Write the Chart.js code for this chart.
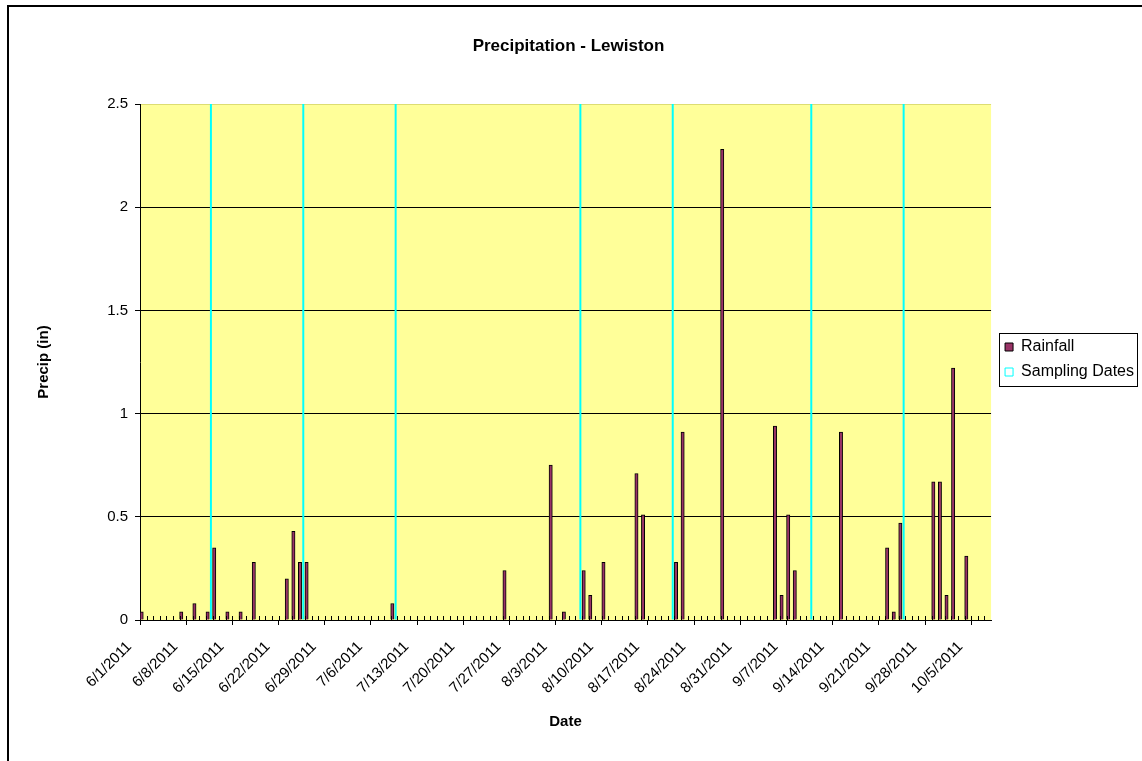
<!DOCTYPE html>
<html lang="en">
  <head>
    <meta charset="UTF-8" />
    <title>Precipitation - Lewiston</title>
    <script src="https://cdn.jsdelivr.net/npm/chart.js"></script>
    <style>
      body { margin: 0; background: #fff; }
    </style>
  </head>
  <body>
    <canvas id="precipChart" width="1142" height="761"></canvas>

    <script>
      // categories: one per day, 6/1/2011 - 10/7/2011
      const dates = [
        "6/1/2011", "6/2/2011", "6/3/2011", "6/4/2011", "6/5/2011", "6/6/2011", "6/7/2011", "6/8/2011", "6/9/2011", "6/10/2011",
        "6/11/2011", "6/12/2011", "6/13/2011", "6/14/2011", "6/15/2011", "6/16/2011", "6/17/2011", "6/18/2011", "6/19/2011", "6/20/2011",
        "6/21/2011", "6/22/2011", "6/23/2011", "6/24/2011", "6/25/2011", "6/26/2011", "6/27/2011", "6/28/2011", "6/29/2011", "6/30/2011",
        "7/1/2011", "7/2/2011", "7/3/2011", "7/4/2011", "7/5/2011", "7/6/2011", "7/7/2011", "7/8/2011", "7/9/2011", "7/10/2011",
        "7/11/2011", "7/12/2011", "7/13/2011", "7/14/2011", "7/15/2011", "7/16/2011", "7/17/2011", "7/18/2011", "7/19/2011", "7/20/2011",
        "7/21/2011", "7/22/2011", "7/23/2011", "7/24/2011", "7/25/2011", "7/26/2011", "7/27/2011", "7/28/2011", "7/29/2011", "7/30/2011",
        "7/31/2011", "8/1/2011", "8/2/2011", "8/3/2011", "8/4/2011", "8/5/2011", "8/6/2011", "8/7/2011", "8/8/2011", "8/9/2011",
        "8/10/2011", "8/11/2011", "8/12/2011", "8/13/2011", "8/14/2011", "8/15/2011", "8/16/2011", "8/17/2011", "8/18/2011", "8/19/2011",
        "8/20/2011", "8/21/2011", "8/22/2011", "8/23/2011", "8/24/2011", "8/25/2011", "8/26/2011", "8/27/2011", "8/28/2011", "8/29/2011",
        "8/30/2011", "8/31/2011", "9/1/2011", "9/2/2011", "9/3/2011", "9/4/2011", "9/5/2011", "9/6/2011", "9/7/2011", "9/8/2011",
        "9/9/2011", "9/10/2011", "9/11/2011", "9/12/2011", "9/13/2011", "9/14/2011", "9/15/2011", "9/16/2011", "9/17/2011", "9/18/2011",
        "9/19/2011", "9/20/2011", "9/21/2011", "9/22/2011", "9/23/2011", "9/24/2011", "9/25/2011", "9/26/2011", "9/27/2011", "9/28/2011",
        "9/29/2011", "9/30/2011", "10/1/2011", "10/2/2011", "10/3/2011", "10/4/2011", "10/5/2011", "10/6/2011", "10/7/2011"
      ];

      // daily rainfall (in), same order as dates
      const rainfall = [
        // June
        0.04, 0, 0, 0, 0, 0, 0.04, 0, 0.08, 0, 0.04, 0.35, 0, 0.04, 0, 0.04, 0, 0.28, 0, 0, 0, 0, 0.2, 0.43, 0.28, 0.28, 0, 0, 0, 0,
        // July
        0, 0, 0, 0, 0, 0, 0, 0, 0.08, 0, 0, 0, 0, 0, 0, 0, 0, 0, 0, 0, 0, 0, 0, 0, 0, 0.24, 0, 0, 0, 0, 0,
        // August
        0, 0.75, 0, 0.04, 0, 0, 0.24, 0.12, 0, 0.28, 0, 0, 0, 0, 0.71, 0.51, 0, 0, 0, 0, 0.28, 0.91, 0, 0, 0, 0, 0, 2.28, 0, 0, 0,
        // September
        0, 0, 0, 0, 0.94, 0.12, 0.51, 0.24, 0, 0, 0, 0, 0, 0, 0.91, 0, 0, 0, 0, 0, 0, 0.35, 0.04, 0.47, 0, 0, 0, 0, 0.67, 0.67,
        // October
        0.12, 1.22, 0, 0.31, 0, 0, 0
      ];

      const samplingDates = ["6/11/2011", "6/25/2011", "7/9/2011", "8/6/2011", "8/20/2011", "9/10/2011", "9/24/2011"];
      const samplingMarker = 2.5; // full-height marker bar

      const yTicks = [0, 0.5, 1, 1.5, 2, 2.5];

      // yellow plot area + outer frame
      const backgroundPlugin = {
        id: "plotBackground",
        beforeDraw(chart) {
          const { ctx, chartArea } = chart;
          ctx.save();
          ctx.fillStyle = "#FFFF99";
          ctx.fillRect(chartArea.left, chartArea.top, chartArea.right - chartArea.left, chartArea.bottom - chartArea.top);
          ctx.strokeStyle = "#000";
          ctx.lineWidth = 2;
          ctx.strokeRect(8, 6, chart.width + 10, chart.height + 10);
          ctx.restore();
        },
      };

      // small inside ticks at each day
      const minorTicksPlugin = {
        id: "minorTicks",
        afterDatasetsDraw(chart) {
          const { ctx, chartArea } = chart;
          const xs = chart.scales.x;
          const slot = xs.getPixelForValue(1) - xs.getPixelForValue(0);
          ctx.save();
          ctx.strokeStyle = "#000";
          ctx.lineWidth = 1;
          ctx.beginPath();
          for (let i = 1; i < dates.length; i++) {
            const x = Math.round(xs.getPixelForValue(i) - slot / 2) + 0.5;
            ctx.moveTo(x, chartArea.bottom);
            ctx.lineTo(x, chartArea.bottom - 4);
          }
          ctx.stroke();
          ctx.restore();
        },
      };

      // nudge legend/title and draw a box round the legend items
      const legendBoxPlugin = {
        id: "legendBox",
        afterLayout(chart) {
          const lg = chart.legend;
          lg.left += 5;
          lg.top -= 8;
          lg.bottom -= 8;
          chart.titleBlock.left -= 16;
          chart.titleBlock.right -= 16;
        },
        afterDraw(chart) {
          const lg = chart.legend;
          const pad = lg.options.labels.padding;
          const colH = lg.columnSizes[0].height;
          const y0 = (lg.top + pad + lg.bottom - colH) / 2;
          const ctx = chart.ctx;
          ctx.save();
          ctx.strokeStyle = "#000";
          ctx.lineWidth = 1;
          const x1 = Math.round(chart.chartArea.right + 8) + 0.5;
          const top = Math.round(y0 - 6) + 0.5;
          const bottom = Math.round(y0 + 47) + 0.5;
          ctx.strokeRect(x1, top, 1137.5 - x1, bottom - top);
          ctx.restore();
        },
      };

      const ctx = document.getElementById("precipChart").getContext("2d");
      new Chart(ctx, {
        type: "bar",
        data: {
          labels: dates,
          datasets: [
            {
              label: "Rainfall",
              data: rainfall,
              backgroundColor: "#993366",
              borderColor: "#000000",
              borderWidth: 1,
              categoryPercentage: 1.0,
              barPercentage: 1.0,
            },
            {
              label: "Sampling Dates",
              data: samplingDates.map((d) => ({ x: d, y: samplingMarker })),
              backgroundColor: "#00FFFF",
              borderWidth: 0,
              categoryPercentage: 1.0,
              barPercentage: 0.6,
            },
          ],
        },
        options: {
          responsive: false,
          animation: false,
          layout: { padding: { left: 30, right: 3, top: 0, bottom: 26 } },
          plugins: {
            title: {
              display: true,
              text: "Precipitation - Lewiston",
              color: "#000",
              font: { family: "Liberation Sans, Arial", size: 17, weight: "bold" },
              padding: { top: 36, bottom: 47.6 },
            },
            legend: {
              position: "right",
              labels: {
                color: "#000",
                font: { family: "Liberation Sans, Arial", size: 16 },
                boxWidth: 8,
                boxHeight: 8,
                padding: 9,
                generateLabels(chart) {
                  const items = Chart.defaults.plugins.legend.labels.generateLabels(chart);
                  items[1].fillStyle = "#FFFFFF";
                  items[1].strokeStyle = "#00FFFF";
                  items[1].lineWidth = 1;
                  return items;
                },
              },
            },
            tooltip: { enabled: false },
          },
          scales: {
            x: {
              offset: true,
              afterFit(scale) {
                scale.height = 115;
              },
              grid: {
                offset: true,
                drawOnChartArea: false,
                tickLength: 5,
                color: (c) => (c.index % 7 === 0 ? "#000" : "rgba(0,0,0,0)"),
              },
              border: { color: "#000", width: 1 },
              ticks: {
                autoSkip: false,
                minRotation: 45,
                maxRotation: 45,
                padding: 13,
                labelOffset: -14,
                color: "#000",
                font: { family: "Liberation Sans, Arial", size: 15 },
                callback: function (value, index) {
                  return index % 7 === 0 ? this.getLabelForValue(value) : "";
                },
              },
              title: {
                display: true,
                text: "Date",
                color: "#000",
                font: { family: "Liberation Sans, Arial", size: 15, weight: "bold" },
                padding: { top: 4, bottom: 4 },
              },
            },
            y: {
              min: yTicks[0],
              max: yTicks[yTicks.length - 1],
              afterFit(scale) {
                scale.width = 110;
              },
              afterBuildTicks(scale) {
                scale.ticks = yTicks.map((v) => ({ value: v }));
              },
              grid: {
                color: (c) => (c.tick && c.tick.value === 2.5 ? "rgba(120,120,0,0.25)" : "#000"),
                tickColor: "#000",
                tickLength: 5,
              },
              border: { color: "#000", width: 1 },
              ticks: {
                padding: 7,
                color: "#000",
                font: { family: "Liberation Sans, Arial", size: 15 },
                callback: (v) => String(v),
              },
              title: {
                display: true,
                text: "Precip (in)",
                color: "#000",
                font: { family: "Liberation Sans, Arial", size: 15, weight: "bold" },
                padding: { top: 5, bottom: 4 },
              },
            },
          },
        },
        plugins: [backgroundPlugin, minorTicksPlugin, legendBoxPlugin],
      });
    </script>
  </body>
</html>
